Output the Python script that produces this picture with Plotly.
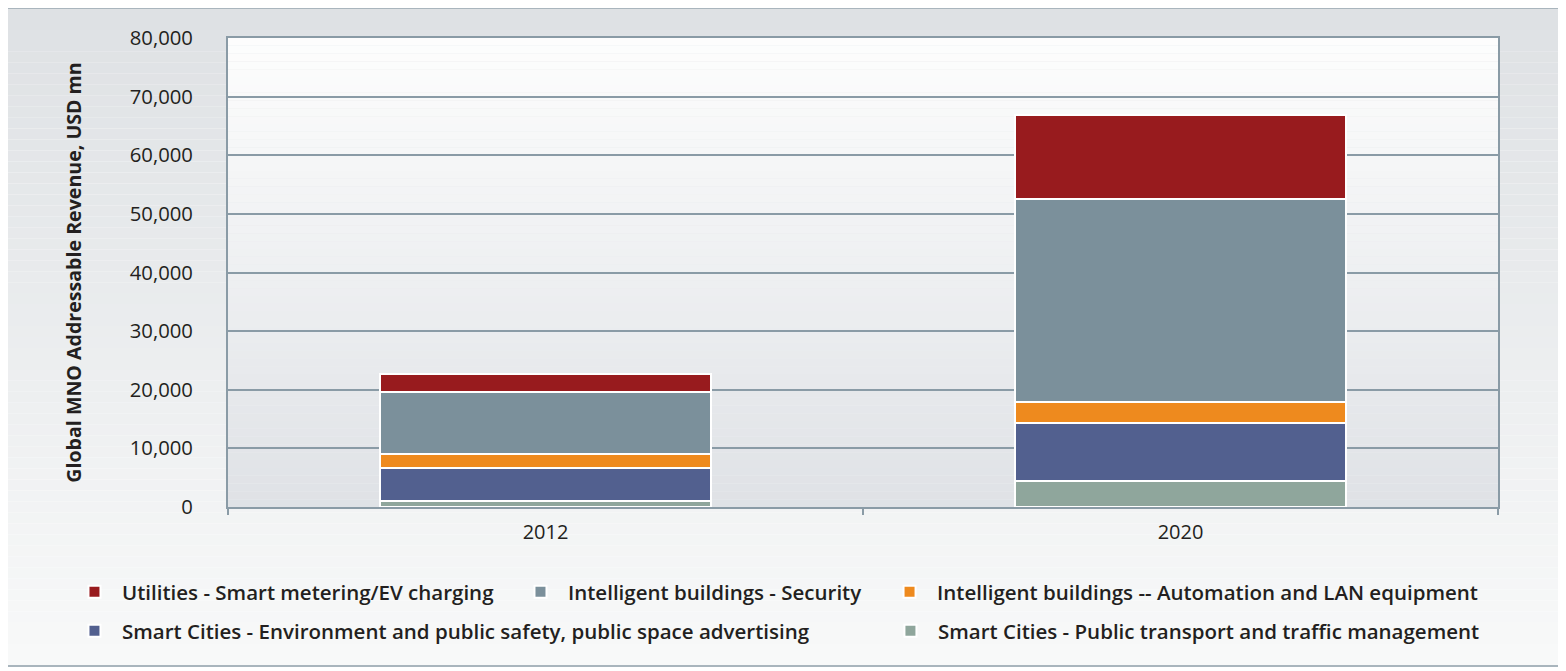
import plotly.graph_objects as go

# ---- data (USD mn) ----
years = ["2012", "2020"]
smart_cities_transport = [1000, 4400]
smart_cities_env = [5700, 10000]
buildings_automation = [2300, 3500]
buildings_security = [10700, 34700]
utilities_metering = [3000, 14350]

y_ticks = [0, 10000, 20000, 30000, 40000, 50000, 60000, 70000, 80000]

series = [
    ("Smart Cities - Public transport and traffic management", smart_cities_transport, "#8fa69c", "legend5"),
    ("Smart Cities - Environment and public safety, public space advertising", smart_cities_env, "#52608f", "legend4"),
    ("Intelligent buildings -- Automation and LAN equipment", buildings_automation, "#ee8a1e", "legend3"),
    ("Intelligent buildings - Security", buildings_security, "#7b909b", "legend2"),
    ("Utilities - Smart metering/EV charging", utilities_metering, "#981b1e", "legend"),
]

FONT = "Open Sans"
TXT = "#231f20"
AX = "#8a9ba6"

fig = go.Figure()
for name, vals, col, lg in series:
    fig.add_trace(go.Bar(
        x=years, y=vals, name=name, legend=lg,
        marker=dict(color=col, line=dict(color="white", width=2)),
    ))

# gradient backgrounds (styling only)
def lerp(c1, c2, t):
    return "rgb(%d,%d,%d)" % tuple(round(a + (b - a) * t) for a, b in zip(c1, c2))

shapes = []
# outer frame
fx0, fx1, fy0, fy1 = -0.1756, 1.06, -0.3390, 1.0640
N = 60
top_c, bot_c = (222, 225, 228), (248, 249, 249)
for i in range(N):
    y1 = fy1 - (fy1 - fy0) * i / N
    y0 = fy1 - (fy1 - fy0) * (i + 1) / N
    shapes.append(dict(type="rect", xref="paper", yref="paper", x0=fx0, x1=fx1, y0=y0, y1=y1,
                       fillcolor=lerp(top_c, bot_c, i / (N - 1)), line=dict(width=0), layer="below"))
shapes.append(dict(type="rect", xref="paper", yref="paper", x0=fx0, x1=fx1, y0=fy0, y1=fy1,
                   fillcolor="rgba(0,0,0,0)", line=dict(color="#a9b5bd", width=2), layer="below"))
# plot area
ptop, pbot = (253, 253, 253), (223, 226, 230)
for i in range(N):
    y1 = 1 - i / N
    y0 = 1 - (i + 1) / N
    shapes.append(dict(type="rect", xref="paper", yref="paper", x0=0, x1=1, y0=y0, y1=y1,
                       fillcolor=lerp(ptop, pbot, i / (N - 1)), line=dict(width=0), layer="below"))

legend_common = dict(orientation="h", xanchor="left", yanchor="middle", bgcolor="rgba(0,0,0,0)",
                     itemwidth=45, itemclick=False,
                     font=dict(family=FONT, size=20.5, color=TXT, weight=600))
row1, row2 = -0.1812, -0.2644

fig.update_layout(
    width=1558, height=663,
    margin=dict(l=220, r=68, t=30, b=164),
    paper_bgcolor="white", plot_bgcolor="rgba(0,0,0,0)",
    barmode="stack", bargap=0.48,
    font=dict(family=FONT, color=TXT),
    shapes=shapes,
    showlegend=True,
    legend=dict(x=-0.1268, y=row1, **legend_common),
    legend2=dict(x=0.2244, y=row1, **legend_common),
    legend3=dict(x=0.5150, y=row1, **legend_common),
    legend4=dict(x=-0.1268, y=row2, **legend_common),
    legend5=dict(x=0.5157, y=row2, **legend_common),
    xaxis=dict(
        type="category", showline=True, linecolor=AX, linewidth=2, mirror=True,
        ticks="outside", tickson="boundaries", ticklen=6, tickcolor=AX, tickwidth=2,
        tickfont=dict(family=FONT, size=20, color=TXT), ticklabelstandoff=6,
        showgrid=False,
    ),
    yaxis=dict(
        range=[0, 80000], tickvals=y_ticks, tickformat=",d",
        showline=True, linecolor=AX, linewidth=2, mirror=True,
        showgrid=True, gridcolor=AX, gridwidth=2, zeroline=False,
        ticks="", ticklabelstandoff=29,
        tickfont=dict(family=FONT, size=20.3, color=TXT),
        title=dict(text="Global MNO Addressable Revenue, USD mn", standoff=43,
                   font=dict(family=FONT, size=19.6, color=TXT, weight=700)),
    ),
)

fig.write_html("out.html")
